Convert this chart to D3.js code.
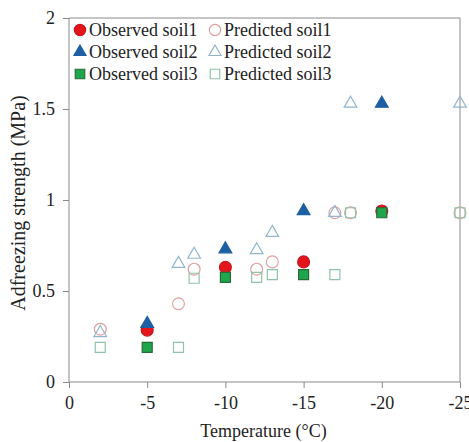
<!DOCTYPE html>
<html>
<head>
<meta charset="utf-8">
<script src="https://cdn.jsdelivr.net/npm/d3@7"></script>
<style>
  body { margin: 0; background: #fff; }
  svg { font-family: "Liberation Serif", "Times New Roman", serif; }
</style>
</head>
<body>
<svg class="chart" width="469" height="442"></svg>
<script>
// observed temperatures and strengths
const obsTemp = [-5, -10, -15, -20]
const obsSoil1 = [0.285, 0.63, 0.66, 0.94]
const obsSoil2 = [0.32, 0.73, 0.94, 1.53]
const obsSoil3 = [0.19, 0.575, 0.59, 0.93]

// predicted
const predTemp = [-2, -7, -8, -12, -13, -17, -18, -25]
const predSoil1 = [0.29, 0.43, 0.62, 0.62, 0.66, 0.93, 0.93, 0.93]
const predSoil2 = [0.27, 0.65, 0.70, 0.725, 0.82, 0.93, 1.53, 1.53]
const predSoil3 = [0.19, 0.19, 0.57, 0.575, 0.59, 0.59, 0.93, 0.93]

const xTicks = [0, -5, -10, -15, -20, -25]
const yTicks = [0, 0.5, 1, 1.5, 2]

const svg = d3.select(".chart")
const plot = { left: 69, right: 460, top: 18, bottom: 382 }
const axisColor = "#8a8a8a"

const xScale = d3.scaleLinear().domain([0, -25]).range([plot.left, plot.right])
const yScale = d3.scaleLinear().domain([0, 2]).range([plot.bottom, plot.top])

// frame (top + right)
svg.append("path")
  .attr("d", "M" + plot.left + "," + plot.top + "H" + plot.right + "V" + plot.bottom)
  .attr("fill", "none")
  .attr("stroke", axisColor)
  .attr("stroke-width", 1)

const xAxis = svg.append("g")
  .attr("transform", "translate(0," + plot.bottom + ")")
  .call(d3.axisBottom(xScale).tickValues(xTicks).tickSize(6).tickPadding(8).tickFormat(d => String(d)))
const yAxis = svg.append("g")
  .attr("transform", "translate(" + plot.left + ",0)")
  .call(d3.axisLeft(yScale).tickValues(yTicks).tickSize(6).tickPadding(8).tickFormat(d => String(d)))

xAxis.select(".domain").attr("d", "M" + plot.left + ",0H" + plot.right)
yAxis.select(".domain").attr("d", "M0," + plot.top + "V" + plot.bottom)
;[xAxis, yAxis].forEach(function (g) {
  g.select(".domain").attr("stroke", axisColor)
  g.selectAll(".tick line").attr("stroke", axisColor)
  g.selectAll(".tick text").attr("fill", "#222").style("font-size", "18px")
    .style("font-family", "Liberation Serif, Times New Roman, serif")
})

// axis titles
svg.append("text")
  .attr("x", (plot.left + plot.right) / 2 - 1).attr("y", 437)
  .attr("text-anchor", "middle")
  .style("font-size", "18px").attr("fill", "#222")
  .text("Temperature (\u00B0C)")

svg.append("text")
  .attr("transform", "translate(25,203) rotate(-90)")
  .attr("text-anchor", "middle")
  .style("font-size", "20px").attr("fill", "#222")
  .text("Adfreezing strength (MPa)")

const series = [
  { name: "Observed soil1", temp: obsTemp, vals: obsSoil1, shape: d3.symbolCircle, size: 110, fill: "#e3141b", stroke: "#c8141b" },
  { name: "Observed soil2", temp: obsTemp, vals: obsSoil2, shape: d3.symbolTriangle, size: 70, fill: "#1d5fa3", stroke: "#1d5fa3" },
  { name: "Observed soil3", temp: obsTemp, vals: obsSoil3, shape: d3.symbolSquare, size: 100, fill: "#1ea64c", stroke: "#2a6a3a" },
  { name: "Predicted soil1", temp: predTemp, vals: predSoil1, shape: d3.symbolCircle, size: 110, fill: "none", stroke: "#e0a0a0" },
  { name: "Predicted soil2", temp: predTemp, vals: predSoil2, shape: d3.symbolTriangle, size: 70, fill: "none", stroke: "#92b6cc" },
  { name: "Predicted soil3", temp: predTemp, vals: predSoil3, shape: d3.symbolSquare, size: 100, fill: "none", stroke: "#8fc4aa" }
]

series.forEach(function (s) {
  svg.append("g").selectAll("path")
    .data(s.vals)
    .join("path")
    .attr("transform", (d, i) => "translate(" + xScale(s.temp[i]) + "," + yScale(d) + ")")
    .attr("d", d3.symbol().type(s.shape).size(s.size))
    .attr("fill", s.fill)
    .attr("stroke", s.stroke)
    .attr("stroke-width", 1.2)
})

// legend
const legend = svg.append("g")
series.forEach(function (s, i) {
  const col = i < 3 ? 0 : 1
  const row = i % 3
  const lx = col === 0 ? 80 : 215
  const ly = 30 + row * 22
  legend.append("path")
    .attr("transform", "translate(" + lx + "," + ly + ")")
    .attr("d", d3.symbol().type(s.shape).size(s.size * 0.9))
    .attr("fill", s.fill)
    .attr("stroke", s.stroke)
    .attr("stroke-width", 1.2)
  legend.append("text")
    .attr("x", lx + 9).attr("y", ly + 6)
    .style("font-size", "18px").attr("fill", "#222")
    .text(s.name)
})
</script>
</body>
</html>
